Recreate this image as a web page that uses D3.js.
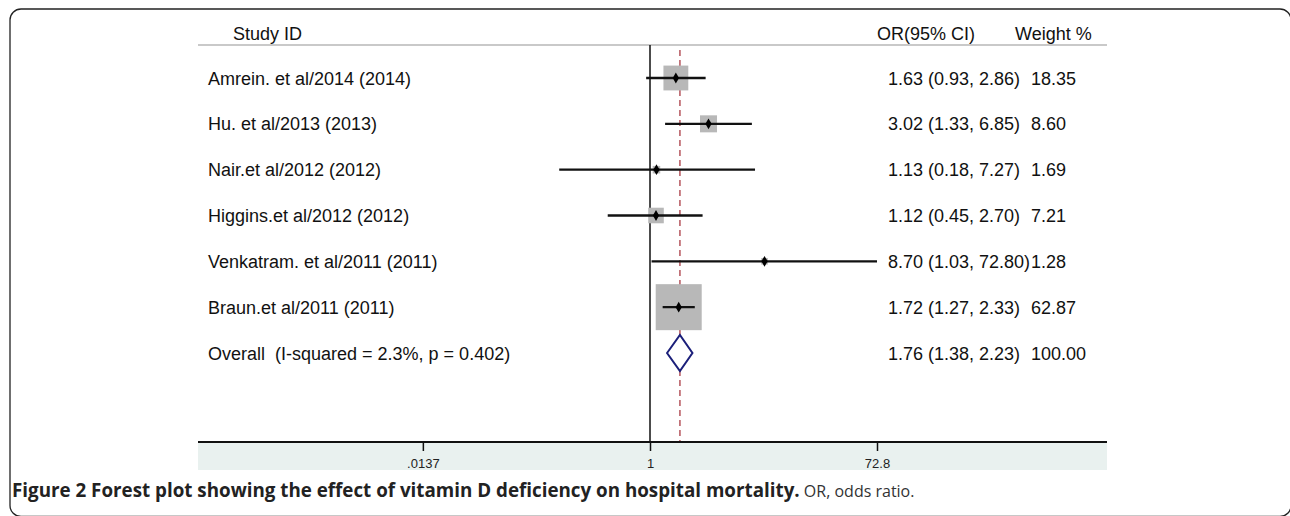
<!DOCTYPE html>
<html>
<head>
<meta charset="utf-8">
<script src="https://cdn.jsdelivr.net/npm/d3@7"></script>
<style>
  body { margin: 0; background: #fff; }
  svg { display: block; }
</style>
</head>
<body>
<script>
// study rows
var studies = ["Amrein. et al/2014 (2014)", "Hu. et al/2013 (2013)", "Nair.et al/2012 (2012)",
               "Higgins.et al/2012 (2012)", "Venkatram. et al/2011 (2011)", "Braun.et al/2011 (2011)"];
var or    = [1.63, 3.02, 1.13, 1.12, 8.70, 1.72];
var lower = [0.93, 1.33, 0.18, 0.45, 1.03, 1.27];
var upper = [2.86, 6.85, 7.27, 2.70, 72.80, 2.33];
var weight = [18.35, 8.60, 1.69, 7.21, 1.28, 62.87];

var overallLabel = "Overall  (I-squared = 2.3%, p = 0.402)";
var overall = [1.76, 1.38, 2.23];
var overallWeight = "100.00";

var tickValues = [0.0137, 1, 72.8];
var tickLabels = [".0137", "1", "72.8"];

var w = 1290, h = 516;
var left = 198, right = 1107;
var axisY = 442;

var svg = d3.select("body").append("svg").attr("width", w).attr("height", h);

// outer frame of the figure panel (right and bottom edges run off the picture)
svg.append("rect")
  .attr("x", 10).attr("y", 9)
  .attr("width", 1281).attr("height", 507.5)
  .attr("rx", 11)
  .attr("fill", "none")
  .attr("stroke", "#222")
  .attr("stroke-width", 1.3);

// log scale: 1 sits at 650, 72.8 at 877
var k = (877 - 650) / Math.log(72.8);
var xScale = d3.scaleLog()
  .domain([Math.exp((left - 650) / k), Math.exp((right - 650) / k)])
  .range([left, right]);

var rowIdx = d3.range(studies.length + 1);
var yScale = d3.scalePoint().domain(rowIdx).range([78, 353]);

var side = d3.scaleSqrt().domain([0, 62.87]).range([0, 46]);

var font = "'Liberation Sans', Arial, sans-serif";

// header
var head = svg.append("g").style("font-family", font).style("font-size", "18px").attr("fill", "#111");
head.append("text").attr("x", 233).attr("y", 40).text("Study ID");
head.append("text").attr("x", 877).attr("y", 40).text("OR(95% CI)");
head.append("text").attr("x", 1015).attr("y", 40).text("Weight %");

svg.append("line")
  .attr("x1", left).attr("x2", right)
  .attr("y1", 45).attr("y2", 45)
  .attr("stroke", "#c9c9c9").attr("stroke-width", 2);

// axis band
svg.append("rect")
  .attr("x", left).attr("y", axisY)
  .attr("width", right - left).attr("height", 28)
  .attr("fill", "#e9f1ef");

// null line
svg.append("line")
  .attr("x1", xScale(1)).attr("x2", xScale(1))
  .attr("y1", 45).attr("y2", axisY)
  .attr("stroke", "#111").attr("stroke-width", 1.5);

// overall effect line
svg.append("line")
  .attr("x1", xScale(overall[0])).attr("x2", xScale(overall[0]))
  .attr("y1", 50).attr("y2", axisY)
  .attr("stroke", "#b5545c").attr("stroke-width", 1.5)
  .attr("stroke-dasharray", "6,4");

var rows = studies.map(function(s, i) {
  return { name: s, or: or[i], lo: lower[i], hi: upper[i], wt: weight[i], i: i };
});

var g = svg.append("g");

g.selectAll(".box")
  .data(rows)
  .enter().append("rect")
  .attr("class", "box")
  .attr("x", function(d) { return xScale(d.or) - side(d.wt) / 2; })
  .attr("y", function(d) { return yScale(d.i) - side(d.wt) / 2; })
  .attr("width", function(d) { return side(d.wt); })
  .attr("height", function(d) { return side(d.wt); })
  .attr("fill", "#b8b8b8");

g.selectAll(".ci")
  .data(rows)
  .enter().append("line")
  .attr("class", "ci")
  .attr("x1", function(d) { return xScale(d.lo); })
  .attr("x2", function(d) { return xScale(d.hi); })
  .attr("y1", function(d) { return yScale(d.i); })
  .attr("y2", function(d) { return yScale(d.i); })
  .attr("stroke", "#111").attr("stroke-width", 2.3);

g.selectAll(".pt")
  .data(rows)
  .enter().append("path")
  .attr("class", "pt")
  .attr("d", d3.symbol().type(d3.symbolDiamond).size(34))
  .attr("transform", function(d) { return "translate(" + xScale(d.or) + "," + yScale(d.i) + ")"; })
  .attr("fill", "#000");

// overall diamond
var oy = yScale(studies.length);
svg.append("path")
  .attr("d", "M" + xScale(overall[1]) + "," + oy +
             "L" + xScale(overall[0]) + "," + (oy - 18) +
             "L" + xScale(overall[2]) + "," + oy +
             "L" + xScale(overall[0]) + "," + (oy + 18) + "Z")
  .attr("fill", "#fff")
  .attr("stroke", "#1b1f7a").attr("stroke-width", 2);

// labels
var txt = svg.append("g").style("font-family", font).style("font-size", "18px").attr("fill", "#111");

txt.selectAll(".name")
  .data(rows.map(function(d) { return d.name; }).concat([overallLabel]))
  .enter().append("text")
  .attr("x", 208)
  .attr("y", function(d, i) { return yScale(i) + 6.5; })
  .style("white-space", "pre")
  .text(function(d) { return d; });

var ciText = rows.map(function(d) {
  return d.or.toFixed(2) + " (" + d.lo.toFixed(2) + ", " + d.hi.toFixed(2) + ")";
}).concat([overall[0].toFixed(2) + " (" + overall[1].toFixed(2) + ", " + overall[2].toFixed(2) + ")"]);
var wtText = weight.map(function(v) { return v.toFixed(2); }).concat([overallWeight]);

ciText.forEach(function(t, i) {
  var el = txt.append("text").attr("x", 888).attr("y", yScale(i) + 6.5).text(t);
  var end = 888 + el.node().getComputedTextLength();
  txt.append("text")
    .attr("x", Math.max(1031, end))
    .attr("y", yScale(i) + 6.5)
    .text(wtText[i]);
});

// x axis
var axisG = svg.append("g").attr("transform", "translate(0," + axisY + ")");
axisG.call(d3.axisBottom(xScale)
    .tickValues(tickValues)
    .tickSize(9)
    .tickFormat(function(d, i) { return tickLabels[i]; }));
axisG.select(".domain").remove();
axisG.append("line")
  .attr("x1", left).attr("x2", right)
  .attr("stroke", "#111").attr("stroke-width", 2.2);
axisG.selectAll(".tick line").attr("stroke", "#111").attr("stroke-width", 1.5);
axisG.selectAll(".tick text")
  .attr("y", 17)
  .attr("fill", "#222")
  .style("font-family", "'Liberation Sans Narrow', 'Liberation Sans', Arial, sans-serif")
  .style("font-size", "13px");

// caption
var cap = svg.append("text")
  .attr("x", 12).attr("y", 497)
  .style("font-family", "'Open Sans', 'Noto Sans', sans-serif")
  .attr("fill", "#222");
cap.append("tspan").style("font-weight", "bold").style("font-size", "18.8px")
  .text("Figure 2 Forest plot showing the effect of vitamin D deficiency on hospital mortality.");
cap.append("tspan").style("font-size", "16px").attr("fill", "#333")
  .text(" OR, odds ratio.");
</script>
</body>
</html>
